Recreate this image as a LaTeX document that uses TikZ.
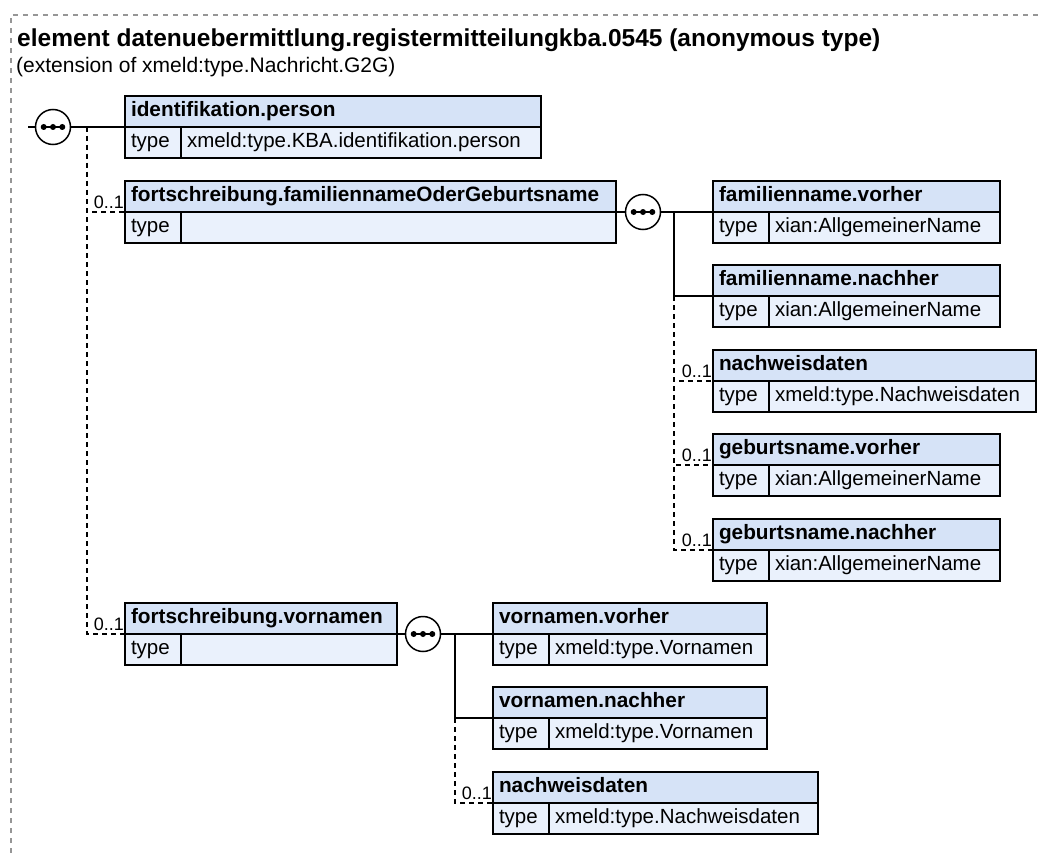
\documentclass[tikz,border=0pt]{standalone}
\usepackage{fontspec}
\setmainfont{Liberation Sans}
\definecolor{hdrfill}{RGB}{214,227,247}
\definecolor{bodyfill}{RGB}{234,241,252}
\definecolor{framegray}{RGB}{150,150,150}
\tikzset{
  cell/.style={draw=black, line width=1.6pt, anchor=north west, minimum height=31pt,
    inner xsep=6pt, inner ysep=0pt, outer sep=0pt, align=left,
    text height=15pt, text depth=4.5pt, font=\fontsize{20.5}{24}\selectfont},
  hdrcell/.style={cell, fill=hdrfill, font=\fontsize{20.8}{24}\selectfont\bfseries},
  bodycell/.style={cell, fill=bodyfill},
  conn/.style={line width=1.5pt, draw=black},
  optconn/.style={conn, dash pattern=on 5pt off 4pt},
  seqcircle/.style={circle, draw=black, line width=1.5pt, fill=white, minimum size=35pt,
    inner sep=0pt, outer sep=0pt},
  seqbar/.style={line width=1.4pt, draw=black},
  card/.style={font=\fontsize{18}{20}\selectfont, anchor=base east, inner sep=0pt},
}
\newcommand\xsdbox[7]{%
  \pgfmathsetmacro\xsdhw{#4-#2-12}%
  \pgfmathsetmacro\xsdkw{#5-#2-12}%
  \pgfmathsetmacro\xsdvw{#4-#5-12}%
  \node[hdrcell, text width=\xsdhw pt] (#1) at (#2,#3) {#6};
  \node[bodycell, text width=\xsdkw pt] (#1-k) at (#2,#3+31) {type};
  \node[bodycell, text width=\xsdvw pt] (#1-v) at (#5,#3+31) {#7};
}
\newcommand\seqsym[3]{%
  \node[seqcircle] (#1) at (#2,#3) {};
  \draw[seqbar] ([xshift=-11pt]#1.center) -- ([xshift=11pt]#1.center);
  \fill ([xshift=-9.3pt]#1.center) circle (3pt);
  \fill (#1.center) circle (3pt);
  \fill ([xshift=9.3pt]#1.center) circle (3pt);
}
\begin{document}
\begin{tikzpicture}[x=1pt,y=-1pt]
\useasboundingbox (0,0) rectangle (1043,853);
% outer frame
\coordinate (fbl) at (11,853);
\coordinate (ftl) at (11,15);
\coordinate (ftr) at (1043,15);
\draw[framegray, line width=1.5pt, dash pattern=on 5pt off 5pt] (fbl) -- (ftl) -- (ftr);
% titles
\node[anchor=base west, inner sep=0pt, font=\fontsize{24.5}{28}\selectfont\bfseries] (title) at (17,47)
  {element datenuebermittlung.registermitteilungkba.0545 (anonymous type)};
\node[anchor=base west, inner sep=0pt, font=\fontsize{21}{24}\selectfont] (subtitle) at (16,73)
  {(extension of xmeld:type.Nachricht.G2G)};
% boxes
\xsdbox{idp}{125}{96}{541}{181}{identifikation.person}{xmeld:type.KBA.identifikation.person}
\xsdbox{fam}{125}{181}{616}{181}{fortschreibung.familiennameOderGeburtsname}{}
\xsdbox{fv}{713}{181}{1000}{769}{familienname.vorher}{xian:AllgemeinerName}
\xsdbox{fn}{713}{265}{1000}{769}{familienname.nachher}{xian:AllgemeinerName}
\xsdbox{nwa}{713}{350}{1036}{769}{nachweisdaten}{xmeld:type.Nachweisdaten}
\xsdbox{gv}{713}{434}{1000}{769}{geburtsname.vorher}{xian:AllgemeinerName}
\xsdbox{gn}{713}{519}{1000}{769}{geburtsname.nachher}{xian:AllgemeinerName}
\xsdbox{vor}{125}{603}{397}{181}{fortschreibung.vornamen}{}
\xsdbox{vv}{493}{603}{767}{549}{vornamen.vorher}{xmeld:type.Vornamen}
\xsdbox{vn}{493}{687}{767}{549}{vornamen.nachher}{xmeld:type.Vornamen}
\xsdbox{nwb}{493}{772}{818}{549}{nachweisdaten}{xmeld:type.Nachweisdaten}
% sequence 1
\coordinate (s1in) at (28,127);
\seqsym{seq1}{53}{127}
\draw[conn] (s1in) -- (seq1.west);
\draw[conn] (seq1.east) -- (idp.south west);
\coordinate (j1) at (87,127);
\draw[optconn] (j1) |- (fam.south west);
\draw[optconn] (j1) |- (vor.south west);
\node[card] (c1) at ([xshift=-1pt,yshift=4pt]fam.south west) {0..1};
\node[card] (c2) at ([xshift=-1pt,yshift=4pt]vor.south west) {0..1};
% sequence 2
\seqsym{seq2}{643}{212}
\draw[conn] (fam.south east) -- (seq2.west);
\draw[conn] (seq2.east) -- (fv.south west);
\coordinate (j2) at (674,212);
\coordinate (j2b) at (674,296);
\draw[conn] (j2) |- (fn.south west);
\draw[optconn] (j2b) |- (nwa.south west);
\draw[optconn] (j2b) |- (gv.south west);
\draw[optconn] (j2b) |- (gn.south west);
\node[card] (c3) at ([xshift=-1pt,yshift=4pt]nwa.south west) {0..1};
\node[card] (c4) at ([xshift=-1pt,yshift=4pt]gv.south west) {0..1};
\node[card] (c5) at ([xshift=-1pt,yshift=4pt]gn.south west) {0..1};
% sequence 3
\seqsym{seq3}{423}{634}
\draw[conn] (vor.south east) -- (seq3.west);
\draw[conn] (seq3.east) -- (vv.south west);
\coordinate (j3) at (455,634);
\coordinate (j3b) at (455,718);
\draw[conn] (j3) |- (vn.south west);
\draw[optconn] (j3b) |- (nwb.south west);
\node[card] (c6) at ([xshift=-1pt,yshift=4pt]nwb.south west) {0..1};
\end{tikzpicture}
\end{document}
